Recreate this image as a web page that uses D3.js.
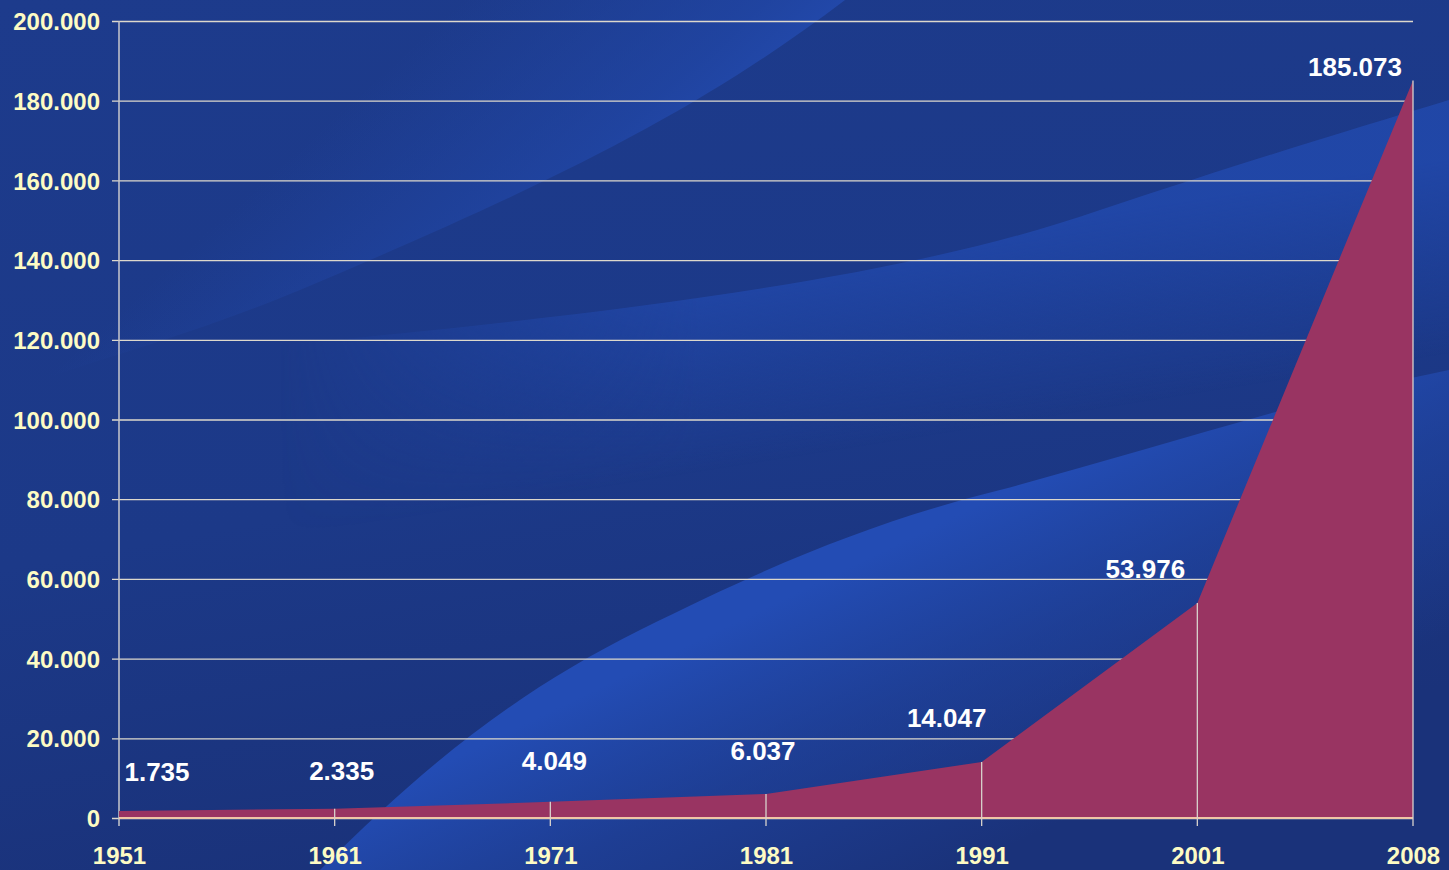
<!DOCTYPE html>
<html>
<head>
<meta charset="utf-8">
<script src="https://cdn.jsdelivr.net/npm/d3@7"></script>
<style>
html,body{margin:0;padding:0;background:#1c3a8a;}
svg{display:block;}
text{font-family:"Liberation Sans",Arial,sans-serif;font-weight:bold;}
</style>
</head>
<body>
<svg id="chart" width="1449" height="870"></svg>
<script>
const years = ["1951","1961","1971","1981","1991","2001","2008"];
const values = [1735, 2335, 4049, 6037, 14047, 53976, 185073];
const yTicks = [0,20000,40000,60000,80000,100000,120000,140000,160000,180000,200000];
// manual label placement (dx, dy relative to point)
const labelDx = [38, 7, 4, -3, -35, -52, -58];
const labelDy = [-30, -29, -32, -34, -35, -25, -4];

const W = 1449, H = 870;
const M = {left:119, right:1413, top:21, bottom:818};
const svg = d3.select("#chart");
const loc = d3.formatLocale({decimal:",", thousands:".", grouping:[3], currency:["",""]});
const fmt = loc.format(",d");

// background
const defs = svg.append("defs");
const bg = defs.append("linearGradient").attr("id","bg").attr("x1",0).attr("y1",0).attr("x2",0.3).attr("y2",1);
bg.append("stop").attr("offset",0).attr("stop-color","#1d3b8c");
bg.append("stop").attr("offset",0.6).attr("stop-color","#1c3988");
bg.append("stop").attr("offset",1).attr("stop-color","#1a327a");
svg.append("rect").attr("width",W).attr("height",H).attr("fill","url(#bg)");

function grad(id, x1,y1,x2,y2, stops){
  const g = defs.append("linearGradient").attr("id",id).attr("gradientUnits","userSpaceOnUse")
    .attr("x1",x1).attr("y1",y1).attr("x2",x2).attr("y2",y2);
  stops.forEach(s=>g.append("stop").attr("offset",s[0]).attr("stop-color",s[1]).attr("stop-opacity",s[2]));
}
// upper-left swoosh: lighter near its lower-right edge, fading to upper-left
grad("sw1", 330,120, 520,330, [[0,"#2147a8",0],[0.7,"#2147a8",0.7],[1,"#234aae",1]]);
svg.append("path")
  .attr("d","M0,0 L845,0 C700,110 560,180 300,290 C180,340 90,360 0,395 Z")
  .attr("fill","url(#sw1)");

// middle swoosh: sharp upper edge, fading downward and fading out to the left
grad("sw2", 1000,230, 1030,420, [[0,"#2147a8",0.95],[0.5,"#2147a8",0.45],[1,"#2147a8",0]]);
grad("fadeL", 280,0, 700,0, [[0,"#ffffff",0],[1,"#ffffff",1]]);
defs.append("mask").attr("id","m2").attr("maskUnits","userSpaceOnUse")
  .attr("x",0).attr("y",0).attr("width",W).attr("height",H)
  .append("rect").attr("width",W).attr("height",H).attr("fill","url(#fadeL)");
svg.append("path")
  .attr("d","M280,345 C600,315 900,280 1100,210 C1250,160 1350,130 1449,100 L1449,600 L280,600 Z")
  .attr("fill","url(#sw2)").attr("mask","url(#m2)");

// lower swoosh: sharp upper-left edge, fading to lower-right
grad("sw3", 760,610, 900,900, [[0,"#234cb4",1],[0.45,"#2147a8",0.55],[1,"#2147a8",0]]);
svg.append("path")
  .attr("d","M320,870 C430,760 520,690 640,630 C780,560 880,520 1000,490 C1150,450 1300,400 1449,370 L1449,870 Z")
  .attr("fill","url(#sw3)");

// scales
const x = d3.scalePoint().domain(years).range([M.left, M.right]);
const y = d3.scaleLinear().domain([0,200000]).range([M.bottom, M.top]);

// gridlines + y axis labels
const yAxis = d3.axisLeft(y).tickValues(yTicks).tickSize(-(M.right - M.left + 7)).tickFormat(d => fmt(d)).tickPadding(12);
const ya = svg.append("g").attr("transform",`translate(${M.left-7},0)`).call(yAxis);
ya.select(".domain").remove();
ya.selectAll(".tick line").attr("stroke","#ddd8cc").attr("stroke-width",1.3);
ya.selectAll(".tick text").attr("fill","#fdfbc4").attr("font-size",24).attr("x",-12).attr("dy","0.36em");

// y axis line
svg.append("line").attr("x1",M.left).attr("x2",M.left).attr("y1",M.top).attr("y2",M.bottom+8)
  .attr("stroke","#c8c8cc").attr("stroke-width",1.5);

// area
const data = years.map((yr,i)=>({yr, v:values[i]}));
const area = d3.area().x(d=>x(d.yr)).y0(y(0)).y1(d=>y(d.v));
svg.append("path").datum(data).attr("d",area).attr("fill","#993462");

// baseline
svg.append("line").attr("x1",M.left).attr("x2",M.right).attr("y1",y(0)).attr("y2",y(0))
  .attr("stroke","#f0c6a6").attr("stroke-width",2);

// drop lines / ticks
svg.selectAll(".drop").data(data.slice(1)).enter().append("line")
  .attr("x1",d=>x(d.yr)).attr("x2",d=>x(d.yr)).attr("y1",d=>y(d.v)).attr("y2",M.bottom+8)
  .attr("stroke","#d8d2cc").attr("stroke-width",1.3);

// x labels
const xAxis = d3.axisBottom(x).tickSize(0).tickPadding(0);
const xa = svg.append("g").attr("transform",`translate(0,${M.bottom})`).call(xAxis);
xa.select(".domain").remove();
xa.selectAll(".tick text").attr("fill","#fdfbc4").attr("font-size",24).attr("y",46).attr("dy",0);

// data labels
svg.selectAll(".lbl").data(data).enter().append("text")
  .attr("x",(d,i)=>x(d.yr)+labelDx[i]).attr("y",(d,i)=>y(d.v)+labelDy[i])
  .attr("text-anchor","middle").attr("fill","#ffffff").attr("font-size",26)
  .text(d=>fmt(d.v));
</script>
</body>
</html>
